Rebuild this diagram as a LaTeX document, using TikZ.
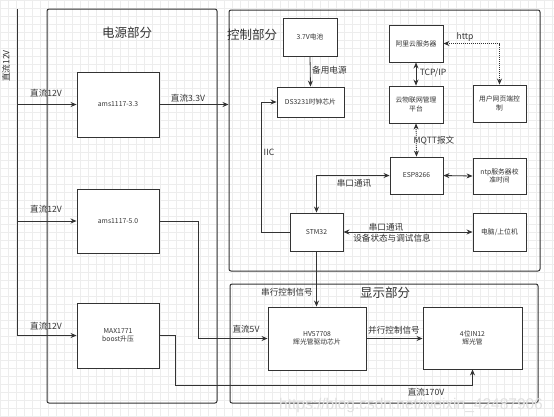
\documentclass[tikz,border=0pt]{standalone}
\usepackage{fontspec}
\setmainfont{Noto Sans CJK SC}
\newfontfamily\wmfont{Liberation Sans}
\usetikzlibrary{arrows.meta,calc}
\definecolor{ln}{HTML}{333333}
\tikzset{
  box/.style={draw=ln, line width=0.9pt, fill=white, inner sep=1pt, align=center, font=\fontsize{6.8}{8.3}\selectfont, text=ln},
  container/.style={draw=ln, line width=1pt, rounded corners=2pt, inner sep=0pt},
  conn/.style={draw=ln, line width=0.8pt},
  arr/.style={conn, -{Stealth[length=6pt,width=5pt]}},
  darr/.style={conn, {Stealth[length=6pt,width=5pt]}-{Stealth[length=6pt,width=5pt]}},
  dotline/.style={dash pattern=on 1pt off 1pt},
  lbl/.style={font=\fontsize{8.6}{10}\selectfont, text=ln, inner sep=0pt},
  title/.style={font=\fontsize{12.5}{14}\selectfont, text=ln, inner sep=0pt},
}
\begin{document}
\begin{tikzpicture}[x=1pt,y=-1pt]
\useasboundingbox (0,0) rectangle (554,416);
\fill[white] (0,0) rectangle (554,416);
\foreach \i in {0,8,...,552} \draw[black!7, line width=0.4pt] (\i,0) -- (\i,416);
\foreach \j in {0,8,...,416} \draw[black!7, line width=0.4pt] (0,\j) -- (554,\j);

% containers
\node[container, minimum width=170pt, minimum height=394pt] (pwr) at (132,206) {};
\node[container, minimum width=311pt, minimum height=261pt] (ctl) at (384.5,140.5) {};
\node[container, minimum width=308pt, minimum height=119pt] (disp) at (384,343.5) {};
\node[title] (tpwr) at (127,33) {电源部分};
\node[title] (tctl) at (252,35) {控制部分};
\node[title] (tdisp) at (385,293) {显示部分};

% power boxes
\node[box, minimum width=82pt, minimum height=65pt] (ams33) at (118,104.5) {ams1117-3.3};
\node[box, minimum width=82pt, minimum height=64pt] (ams50) at (118,221) {ams1117-5.0};
\node[box, minimum width=82pt, minimum height=65pt] (max) at (118,335.5) {MAX1771\\boost升压};

% control boxes
\node[box, minimum width=54pt, minimum height=38pt] (bat) at (310,37) {3.7V电池};
\node[box, minimum width=67pt, minimum height=30pt] (ds) at (310.5,102) {DS3231时钟芯片};
\node[box, minimum width=54pt, minimum height=37pt] (ali) at (416,43.5) {阿里云服务器};
\node[box, minimum width=54pt, minimum height=37pt] (iot) at (416,104.5) {云物联网管理\\平台};
\node[box, minimum width=53pt, minimum height=37pt] (user) at (499.5,103.5) {用户网页端控\\制};
\node[box, minimum width=53pt, minimum height=37pt] (esp) at (416.5,175.5) {ESP8266};
\node[box, minimum width=53pt, minimum height=36pt] (ntp) at (499.5,176) {ntp服务器校\\准时间};
\node[box, minimum width=53pt, minimum height=38pt] (stm) at (316.5,232) {STM32};
\node[box, minimum width=53pt, minimum height=38pt] (pc) at (499.5,232) {电脑/上位机};

% display boxes
\node[box, minimum width=98pt, minimum height=63pt] (hv) at (317,338.5) {HV57708\\辉光管驱动芯片};
\node[box, minimum width=99pt, minimum height=62pt] (in12) at (472.5,338) {4位IN12\\辉光管};

% 12V input
\coordinate (in0) at (17,9);
\coordinate (in1) at (17,104.5);
\coordinate (in2) at (17,221);
\coordinate (in3) at (17,335.5);
\draw[conn] (in0) -- (in3);
\draw[arr] (in1) -- (ams33.west);
\draw[arr] (in2) -- (ams50.west);
\draw[arr] (in3) -- (max.west);
\node[lbl, rotate=90] (l12v) at (6,66) {直流12V};
\node[lbl] (l12a) at (46,93) {直流12V};
\node[lbl] (l12b) at (46,209) {直流12V};
\node[lbl] (l12c) at (46,326) {直流12V};

% 3.3V
\draw[arr] (ams33.east) -- (ctl.west |- ams33.east);
\node[lbl] (l33) at (188,98) {直流3.3V};

% 5V
\coordinate (v5a) at (198,221);
\draw[arr] (ams50.east) -- (v5a) |- (hv.west);
\node[lbl] (l5v) at (246,329) {直流5V};

% 170V
\coordinate (v170a) at (175,335.5);
\coordinate (v170b) at (175,385);
\draw[arr] (max.east) -- (v170a) -- (v170b) -| (in12.south);
\node[lbl] (l170) at (426,392) {直流170V};

% control links
\draw[arr] (bat.south) -- (ds.north);
\node[lbl, anchor=west] (lbak) at (312,70) {备用电源};
\draw[darr] (ali.south) -- (iot.north);
\node[lbl] (ltcp) at (433,73) {TCP/IP};
\draw[darr, dotline] (ali.east) -| (user.north);
\node[lbl] (lhttp) at (465,37) {http};
\draw[darr, dotline] (iot.south) -- (esp.north);
\node[lbl] (lmqtt) at (434,141) {MQTT报文};
\draw[darr] (esp.east) -- (ntp.west);
\draw[darr] (stm.north) |- (esp.west);
\node[lbl] (luart1) at (354,183) {串口通讯};
\draw[darr] (stm.east) -- (pc.west);
\node[lbl] (luart2) at (386,227) {串口通讯};
\node[lbl] (ldbg) at (392,238) {设备状态与调试信息};
\coordinate (iica) at (261,232);
\draw[arr] (stm.west) -- (iica) |- (ds.west);
\node[lbl] (liic) at (269,152) {IIC};

% display links
\draw[arr] (stm.south) -- (stm.south |- hv.north);
\node[lbl, anchor=east] (lser) at (313,292) {串行控制信号};
\draw[arr] (hv.east) -- (hv.east -| in12.west);
\node[lbl] (lpar) at (394,330) {并行控制信号};

% watermark
\node[font=\wmfont\fontsize{15.5}{16}\selectfont, text=black!12, anchor=west, inner sep=0pt] (wm) at (279,405) {https://blog.csdn.net/weixin\_42487906};
\end{tikzpicture}
\end{document}
